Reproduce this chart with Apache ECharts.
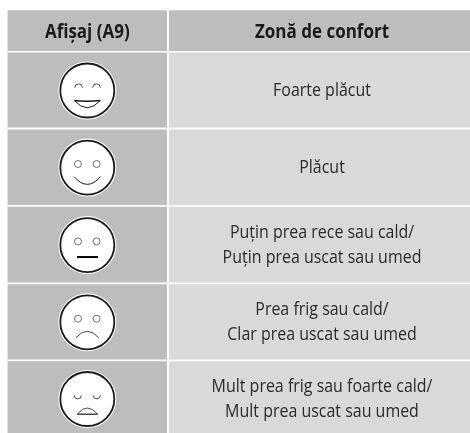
<!DOCTYPE html>
<html><head><meta charset="utf-8">
<style>html,body{margin:0;padding:0;background:#fff}#c{width:470px;height:433px}</style>
<script src="https://cdn.jsdelivr.net/npm/echarts@6/dist/echarts.min.js"></script>
</head><body><div id="c"></div>
<script>
const columnHeaders = ['Afișaj (A9)', 'Zonă de confort'];
const moods = ['laugh', 'smile', 'neutral', 'frown', 'sad'];
const comfortLabels = [
  'Foarte plăcut',
  'Plăcut',
  'Puțin prea rece sau cald/\nPuțin prea uscat sau umed',
  'Prea frig sau cald/\nClar prea uscat sau umed',
  'Mult prea frig sau foarte cald/\nMult prea uscat sau umed'
];

// layout in pixel-valued axis units
const colEdges = [[7.6, 167], [168.9, 470]];
const colTextCenter = [87.3, 322];
const rowEdges = [[10.3, 51], [52.6, 127.6], [129.4, 205], [206.8, 282.5], [284.2, 359.6], [361.2, 436]];
const FONT = '"Open Sans",sans-serif';
const INK = '#1a1a1a';

function rectEl(api, c, r, fill) {
  const a = api.coord([colEdges[c][0], rowEdges[r][0]]);
  const b = api.coord([colEdges[c][1], rowEdges[r][1]]);
  return {type: 'rect', shape: {x: a[0], y: a[1], width: b[0] - a[0], height: b[1] - a[1]}, style: {fill}};
}
function textEl(api, c, r, text, font, color, lh, sx, dy) {
  const p = api.coord([colTextCenter[c], (rowEdges[r][0] + rowEdges[r][1]) / 2 + dy]);
  return {type: 'text', x: p[0], y: p[1], scaleX: sx, style: {text, font, fill: color, align: 'center', verticalAlign: 'middle', lineHeight: lh}};
}
function curve(x1, y1, cx, cy, x2, y2, w) {
  return {type: 'bezierCurve', shape: {x1, y1, cpx1: cx, cpy1: cy, x2, y2}, style: {fill: 'none', stroke: INK, lineWidth: w || 0.8}};
}
function lid(cx, cy, r, up) {
  return {type: 'arc', shape: {cx, cy, r, startAngle: up ? Math.PI : 0, endAngle: up ? 2 * Math.PI : Math.PI, clockwise: true}, style: {fill: 'none', stroke: INK, lineWidth: 0.8}};
}
function eyeRing(x, y) {
  return {type: 'circle', shape: {cx: x, cy: y, r: 3.5}, style: {fill: 'none', stroke: '#333', lineWidth: 0.7}};
}
function faceParts(mood) {
  const rings = [eyeRing(-9.3, -3.6), eyeRing(9.3, -3.6)];
  switch (mood) {
    case 'laugh': return [
      lid(-8.7, -2.8, 3.8, true), lid(9.2, -2.8, 3.8, true),
      curve(-13, 10, 0, 11.5, 13, 10, 1.5), curve(-13, 10, 0, 24.5, 13, 10, 1)];
    case 'smile': return rings.concat([curve(-13.2, 9, 0, 24.5, 13.2, 9, 1)]);
    case 'neutral': return rings.concat([{type: 'line', shape: {x1: -10.3, y1: 12, x2: 10.7, y2: 12}, style: {stroke: '#000', lineWidth: 2}}]);
    case 'frown': return rings.concat([curve(-11.5, 15.5, 0, 2.5, 11.5, 15.5, 0.8)]);
    default: return [
      lid(-9.5, -3.6, 3.5, false), lid(9.5, -3.6, 3.5, false),
      curve(-10, 15, 0, 3, 10.3, 15), {type: 'line', shape: {x1: -10, y1: 15.2, x2: 10.3, y2: 15.2}, style: {stroke: INK, lineWidth: 1.2}}];
  }
}
function faceEl(api, r, mood) {
  const c = api.coord([87.3, (rowEdges[r][0] + rowEdges[r][1]) / 2 + 0.4]);
  return {type: 'group', x: c[0], y: c[1], children: [
    {type: 'circle', shape: {cx: 0, cy: 0, r: 29}, style: {fill: '#fff'}},
    {type: 'circle', shape: {cx: 0, cy: 0, r: 27}, style: {fill: '#fff', stroke: INK, lineWidth: 1.8}}
  ].concat(faceParts(mood))};
}

const chart = echarts.init(document.getElementById('c'), null, {renderer: 'canvas', width: 470, height: 433});
chart.setOption({
  animation: false,
  backgroundColor: '#fff',
  grid: {left: 0, right: 0, top: 0, bottom: 0},
  xAxis: {type: 'value', min: 0, max: 470, show: false},
  yAxis: {type: 'value', min: 0, max: 433, inverse: true, show: false},
  series: [
    {
      type: 'custom', coordinateSystem: 'cartesian2d', clip: true,
      data: columnHeaders.map((h, i) => [i, 0]),
      renderItem: (params, api) => {
        const c = params.dataIndex;
        return {type: 'group', children: [
          rectEl(api, c, 0, '#bdbdbd'),
          textEl(api, c, 0, columnHeaders[c], 'bold 19px ' + FONT, '#1a1a1a', 22, 0.895, 1.5)
        ]};
      }
    },
    {
      type: 'custom', coordinateSystem: 'cartesian2d', clip: true,
      data: moods.map((m, i) => [i, 1]),
      renderItem: (params, api) => {
        const i = params.dataIndex, r = i + 1;
        return {type: 'group', children: [
          rectEl(api, 0, r, '#bdbdbd'),
          rectEl(api, 1, r, '#d9d9d9'),
          faceEl(api, r, moods[i]),
          textEl(api, 1, r, comfortLabels[i], '18px ' + FONT, '#2b2b2b', 25, 0.887, 0.7)
        ]};
      }
    }
  ]
});
</script></body></html>
